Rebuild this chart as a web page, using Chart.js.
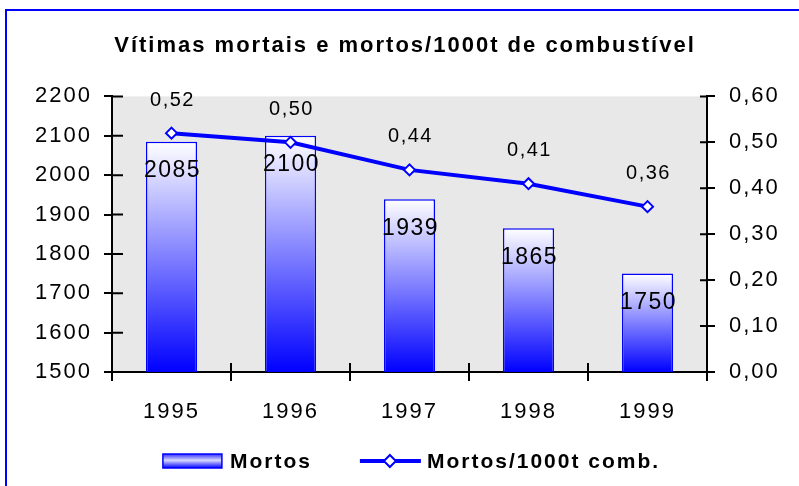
<!DOCTYPE html>
<html>
<head>
<meta charset="utf-8">
<script src="https://cdn.jsdelivr.net/npm/chart.js@4/dist/chart.umd.min.js"></script>
<style>
  html, body { margin: 0; padding: 0; background: #fff; overflow: hidden; }
  #frame { position: absolute; left: 5px; top: 9px; width: 1000px; height: 1000px; border: 2px solid #0000ff; }
  #chart { position: absolute; left: 0; top: 0; }
</style>
</head>
<body>
<div id="frame"></div>
<canvas id="chart" width="799" height="486"></canvas>
<script>
(function () {
  'use strict';

  const years = ['1995', '1996', '1997', '1998', '1999'];
  const mortos = [2085, 2100, 1939, 1865, 1750];
  const mortosPer1000t = [0.52, 0.50, 0.44, 0.41, 0.36];
  const mortosTicks = [1500, 1600, 1700, 1800, 1900, 2000, 2100, 2200];
  const rateTicks = [0, 0.1, 0.2, 0.3, 0.4, 0.5, 0.6];

  const BLUE = '#0000ff';
  const FONT = "'Liberation Sans', Arial, sans-serif";

  Chart.defaults.font.family = FONT;
  Chart.defaults.color = '#000';

  function comma(v) {
    return Number(v).toFixed(2).replace('.', ',');
  }

  // gradient per bar, white at the top down to full blue at the base
  function barGradient(context) {
    const chart = context.chart;
    const y = chart.scales.y;
    if (!y || context.raw === undefined) return BLUE;
    const top = y.getPixelForValue(context.raw);
    const bottom = y.getPixelForValue(y.min);
    if (!isFinite(top) || !isFinite(bottom) || top === bottom) return BLUE;
    const g = chart.ctx.createLinearGradient(0, top, 0, bottom);
    g.addColorStop(0, '#ffffff');
    g.addColorStop(1, BLUE);
    return g;
  }

  function drawBarSymbol(ctx, x, y) {
    const grad = ctx.createLinearGradient(0, y - 7, 0, y + 7);
    grad.addColorStop(0, '#3030ff');
    grad.addColorStop(0.45, '#d8d8ff');
    grad.addColorStop(1, BLUE);
    ctx.fillStyle = grad;
    ctx.fillRect(x, y - 7, 59, 14);
    ctx.strokeStyle = BLUE;
    ctx.lineWidth = 1.5;
    ctx.strokeRect(x, y - 7, 59, 14);
    return 59;
  }

  function drawLineSymbol(ctx, x, y) {
    ctx.strokeStyle = BLUE;
    ctx.lineWidth = 4;
    ctx.beginPath();
    ctx.moveTo(x, y);
    ctx.lineTo(x + 61, y);
    ctx.stroke();
    const cx = x + 30;
    ctx.fillStyle = '#fff';
    ctx.lineWidth = 2;
    ctx.beginPath();
    ctx.moveTo(cx, y - 6);
    ctx.lineTo(cx + 6, y);
    ctx.lineTo(cx, y + 6);
    ctx.lineTo(cx - 6, y);
    ctx.closePath();
    ctx.fill();
    ctx.stroke();
    return 61;
  }

  const letterSpacing = {
    id: 'letterSpacing',
    beforeUpdate(chart) { chart.ctx.letterSpacing = '2px'; },
    beforeDraw(chart) { chart.ctx.letterSpacing = '2px'; }
  };

  const plotBackground = {
    id: 'plotBackground',
    beforeDraw(chart) {
      const { ctx, chartArea } = chart;
      ctx.save();
      ctx.fillStyle = '#e8e8e8';
      ctx.fillRect(chartArea.left, chartArea.top, chartArea.right - chartArea.left, chartArea.bottom - chartArea.top);
      ctx.restore();
    }
  };

  // tick marks also cross into the plot area
  const innerTicks = {
    id: 'innerTicks',
    beforeDatasetsDraw(chart) {
      const { ctx, chartArea, scales } = chart;
      ctx.save();
      ctx.strokeStyle = '#000';
      ctx.lineWidth = 2;
      ctx.beginPath();
      scales.y.ticks.forEach((t) => {
        const y = scales.y.getPixelForValue(t.value);
        ctx.moveTo(chartArea.left, y);
        ctx.lineTo(chartArea.left + 11, y);
      });
      scales.y1.ticks.forEach((t) => {
        const y = scales.y1.getPixelForValue(t.value);
        ctx.moveTo(chartArea.right, y);
        ctx.lineTo(chartArea.right - 7, y);
      });
      const step = (chartArea.right - chartArea.left) / years.length;
      for (let i = 0; i <= years.length; i++) {
        const x = chartArea.left + i * step;
        ctx.moveTo(x, chartArea.bottom);
        ctx.lineTo(x, chartArea.bottom - 9);
      }
      ctx.stroke();
      ctx.restore();
    }
  };

  const valueLabels = {
    id: 'valueLabels',
    afterDatasetsDraw(chart) {
      const ctx = chart.ctx;
      ctx.save();
      ctx.fillStyle = '#000';
      ctx.textAlign = 'center';
      ctx.textBaseline = 'middle';
      ctx.letterSpacing = '1.5px';
      ctx.font = '23px ' + FONT;
      chart.getDatasetMeta(0).data.forEach((bar, i) => {
        ctx.fillText(String(mortos[i]), bar.x + 1, bar.y + 29);
      });
      ctx.font = '20px ' + FONT;
      chart.getDatasetMeta(1).data.forEach((pt, i) => {
        ctx.fillText(comma(mortosPer1000t[i]), pt.x + 1, pt.y - 33);
      });
      ctx.restore();
    }
  };

  // legend row under the axis: bar swatch + line swatch with diamond
  const bottomLegend = {
    id: 'bottomLegend',
    afterDraw(chart) {
      const { ctx, chartArea } = chart;
      const datasets = chart.data.datasets;
      const symbols = [drawBarSymbol, drawLineSymbol];
      const symbolWidths = [59, 61];
      const textGaps = [8, 6];
      const itemGap = 48;
      ctx.save();
      ctx.font = 'bold 21px ' + FONT;
      ctx.letterSpacing = '2px';
      ctx.textBaseline = 'middle';
      ctx.textAlign = 'left';
      const widths = datasets.map((ds, i) => symbolWidths[i] + textGaps[i] + ctx.measureText(ds.label).width);
      const total = widths.reduce((a, b) => a + b, 0) + itemGap * (datasets.length - 1);
      let x = (chartArea.left + chartArea.right) / 2 + 2 - total / 2;
      const y = 461;
      datasets.forEach((ds, i) => {
        symbols[i](ctx, x, y);
        ctx.fillStyle = '#000';
        ctx.fillText(ds.label, x + symbolWidths[i] + textGaps[i], y + 1);
        x += widths[i] + itemGap;
      });
      ctx.restore();
    }
  };

  const axisBorder = { color: '#000', width: 2 };
  const axisGrid = { drawOnChartArea: false, color: '#000', lineWidth: 2 };

  new Chart(document.getElementById('chart').getContext('2d'), {
    data: {
      labels: years,
      datasets: [
        {
          type: 'bar',
          label: 'Mortos',
          data: mortos,
          yAxisID: 'y',
          backgroundColor: barGradient,
          borderColor: BLUE,
          borderWidth: 1.5,
          barPercentage: 0.43,
          categoryPercentage: 1,
          order: 2
        },
        {
          type: 'line',
          label: 'Mortos/1000t comb.',
          data: mortosPer1000t,
          yAxisID: 'y1',
          borderColor: BLUE,
          borderWidth: 4,
          backgroundColor: '#fff',
          pointStyle: 'rectRot',
          pointRadius: 5.5,
          pointBorderWidth: 2,
          pointBackgroundColor: '#fff',
          pointBorderColor: BLUE,
          tension: 0,
          order: 1
        }
      ]
    },
    options: {
      responsive: false,
      animation: false,
      layout: { padding: { left: 16, right: 5, top: 0, bottom: 54 } },
      plugins: {
        tooltip: { enabled: false },
        legend: { display: false },
        title: {
          display: true,
          text: 'Vítimas mortais e mortos/1000t de combustível',
          color: '#000',
          font: { size: 22, weight: 'bold' },
          padding: { top: 33, bottom: 37 }
        }
      },
      scales: {
        x: {
          offset: true,
          border: axisBorder,
          grid: Object.assign({ offset: true, tickLength: 9 }, axisGrid),
          ticks: { color: '#000', font: { size: 22 }, padding: 18 },
          afterFit(scale) { scale.height = 60; }
        },
        y: {
          position: 'left',
          min: mortosTicks[0],
          max: mortosTicks[mortosTicks.length - 1],
          border: axisBorder,
          grid: Object.assign({ tickLength: 8 }, axisGrid),
          ticks: {
            color: '#000',
            font: { size: 22 },
            padding: 12,
            stepSize: mortosTicks[1] - mortosTicks[0],
            callback: (v) => String(v)
          },
          afterFit(scale) { scale.width = 96; }
        },
        y1: {
          position: 'right',
          min: rateTicks[0],
          max: rateTicks[rateTicks.length - 1],
          border: axisBorder,
          grid: Object.assign({ tickLength: 8 }, axisGrid),
          ticks: {
            color: '#000',
            font: { size: 22 },
            padding: 14,
            stepSize: rateTicks[1] - rateTicks[0],
            callback: (v) => comma(v)
          },
          afterFit(scale) { scale.width = 87; }
        }
      }
    },
    plugins: [letterSpacing, plotBackground, innerTicks, valueLabels, bottomLegend]
  });
})();
</script>
</body>
</html>
